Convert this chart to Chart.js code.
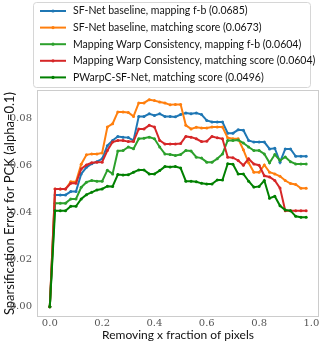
<!DOCTYPE html>
<html>
<head>
<meta charset="utf-8">
<script src="https://cdn.jsdelivr.net/npm/chart.js@4"></script>
<style>
    body { margin: 0; background: #fff; }
    #wrap { width: 322px; height: 344px; }
</style>
</head>
<body>
<div id="wrap"><canvas id="sparseChart" width="322" height="344"></canvas></div>
<script>
// Fraction of pixels removed (x axis)
const fractions = [0, 0.02, 0.04, 0.06, 0.08, 0.1, 0.12, 0.14, 0.16, 0.18,
    0.2, 0.22, 0.24, 0.26, 0.28, 0.3, 0.32, 0.34, 0.36, 0.38,
    0.4, 0.42, 0.44, 0.46, 0.48, 0.5, 0.52, 0.54, 0.56, 0.58,
    0.6, 0.62, 0.64, 0.66, 0.68, 0.7, 0.72, 0.74, 0.76, 0.78,
    0.8, 0.82, 0.84, 0.86, 0.88, 0.9, 0.92, 0.94, 0.96, 0.98];

const sfnetMapping = [0, 0.0474, 0.0474, 0.0474, 0.0488, 0.0488, 0.0563, 0.0591, 0.0606, 0.0615, 0.0627,
    0.0683, 0.0705, 0.0722, 0.0719, 0.0717, 0.0705, 0.0807, 0.0807, 0.0818, 0.0811,
    0.0818, 0.0807, 0.0807, 0.0805, 0.0815, 0.0821, 0.0818, 0.0821, 0.0815, 0.0790,
    0.0783, 0.0783, 0.0783, 0.0736, 0.0736, 0.0750, 0.0748, 0.0705, 0.0698, 0.0698,
    0.0698, 0.0669, 0.0672, 0.0613, 0.0669, 0.0669, 0.0638, 0.0638, 0.0638];

const sfnetMatching = [0, 0.0499, 0.0499, 0.0499, 0.0530, 0.0530, 0.0604, 0.0644, 0.0648, 0.0648, 0.0652,
    0.0762, 0.0776, 0.0826, 0.0826, 0.0824, 0.0807, 0.0864, 0.0864, 0.0878, 0.0874,
    0.0868, 0.0864, 0.0856, 0.0858, 0.0858, 0.0769, 0.0754, 0.0761, 0.0758, 0.0758,
    0.0762, 0.0762, 0.0762, 0.0716, 0.0712, 0.0712, 0.0665, 0.0610, 0.0570, 0.0570,
    0.0601, 0.0570, 0.0563, 0.0553, 0.0535, 0.0522, 0.0518, 0.0502, 0.0502];

const warpMapping = [0, 0.0439, 0.0439, 0.0439, 0.0457, 0.0457, 0.0506, 0.0528, 0.0535, 0.0532, 0.0532,
    0.0579, 0.0563, 0.0660, 0.0662, 0.0677, 0.0670, 0.0712, 0.0714, 0.0719, 0.0712,
    0.0677, 0.0648, 0.0645, 0.0641, 0.0645, 0.0662, 0.0660, 0.0634, 0.0630, 0.0613,
    0.0613, 0.0627, 0.0648, 0.0705, 0.0705, 0.0707, 0.0694, 0.0677, 0.0662, 0.0662,
    0.0648, 0.0610, 0.0645, 0.0620, 0.0635, 0.0615, 0.0605, 0.0605, 0.0605];

const warpMatching = [0, 0.0499, 0.0499, 0.0499, 0.0523, 0.0523, 0.0584, 0.0601, 0.0610, 0.0612, 0.0613,
    0.0662, 0.0698, 0.0705, 0.0705, 0.0700, 0.0700, 0.0754, 0.0754, 0.0769, 0.0762,
    0.0705, 0.0690, 0.0690, 0.0690, 0.0692, 0.0722, 0.0719, 0.0712, 0.0700, 0.0702,
    0.0722, 0.0716, 0.0712, 0.0634, 0.0632, 0.0620, 0.0600, 0.0627, 0.0605, 0.0600,
    0.0555, 0.0550, 0.0535, 0.0503, 0.0407, 0.0407, 0.0407, 0.0407, 0.0407];

const pwarpcMatching = [0, 0.0407, 0.0407, 0.0407, 0.0426, 0.0426, 0.0457, 0.0475, 0.0485, 0.0495, 0.0499,
    0.0511, 0.0510, 0.0560, 0.0558, 0.0559, 0.0570, 0.0580, 0.0580, 0.0563, 0.0563,
    0.0577, 0.0594, 0.0592, 0.0594, 0.0588, 0.0532, 0.0532, 0.0530, 0.0523, 0.0520,
    0.0520, 0.0537, 0.0537, 0.0606, 0.0604, 0.0563, 0.0563, 0.0532, 0.0507, 0.0510,
    0.0535, 0.0460, 0.0468, 0.0428, 0.0410, 0.0407, 0.0383, 0.0379, 0.0379];

const seriesLabels = [
    'SF-Net baseline, mapping f-b (0.0685)',
    'SF-Net baseline, matching score (0.0673)',
    'Mapping Warp Consistency, mapping f-b (0.0604)',
    'Mapping Warp Consistency, matching score (0.0604)',
    'PWarpC-SF-Net, matching score (0.0496)'
];
const seriesColors = ['#1f77b4', '#ff7f0e', '#2ca02c', '#d62728', '#008000'];
const seriesValues = [sfnetMapping, sfnetMatching, warpMapping, warpMatching, pwarpcMatching];

const xTicks = [0, 0.2, 0.4, 0.6, 0.8, 1.0];
const yTicks = [0, 0.02, 0.04, 0.06, 0.08];

// matplotlib-like legend box sitting above the axes
const legendBox = {
    id: 'legendBox',
    afterDraw(chart) {
        const ctx = chart.ctx;
        ctx.save();
        ctx.beginPath();
        ctx.roundRect(33.5, 2.5, 277, 85, 3);
        ctx.fillStyle = 'rgba(255,255,255,0.8)';
        ctx.fill();
        ctx.strokeStyle = '#d6d6d6';
        ctx.lineWidth = 1;
        ctx.stroke();

        ctx.font = '10.5px Lato';
        ctx.textBaseline = 'middle';
        chart.data.datasets.forEach((ds, i) => {
            const y = 11 + i * 16.6;
            ctx.strokeStyle = ds.borderColor;
            ctx.lineWidth = 2;
            ctx.beginPath();
            ctx.moveTo(40, y);
            ctx.lineTo(66, y);
            ctx.stroke();
            ctx.fillStyle = ds.borderColor;
            ctx.beginPath();
            ctx.arc(53, y, 1.6, 0, Math.PI * 2);
            ctx.fill();
            ctx.fillStyle = '#111';
            ctx.fillText(ds.label, 73, y);
        });
        ctx.restore();
    }
};

// light grey frame around the plot area
const axesFrame = {
    id: 'axesFrame',
    afterDraw(chart) {
        const { left, top, width, height } = chart.chartArea;
        const ctx = chart.ctx;
        ctx.save();
        ctx.strokeStyle = '#cccccc';
        ctx.lineWidth = 1;
        ctx.strokeRect(left + 0.5, top + 0.5, width - 1, height - 1);
        ctx.restore();
    }
};

const datasets = seriesValues.map((vals, i) => ({
    label: seriesLabels[i],
    data: vals.map((v, j) => ({ x: fractions[j], y: v })),
    borderColor: seriesColors[i],
    backgroundColor: seriesColors[i],
    borderWidth: 2,
    pointRadius: 1.5,
    pointHoverRadius: 1.5,
    pointBorderWidth: 0,
    tension: 0,
    order: seriesValues.length - i
}));

new Chart(document.getElementById('sparseChart'), {
    type: 'line',
    data: { datasets },
    options: {
        responsive: false,
        animation: false,
        layout: { padding: { top: 90, right: 3, left: 0, bottom: 0 } },
        plugins: {
            legend: { display: false },
            tooltip: { enabled: false }
        },
        scales: {
            x: {
                type: 'linear',
                min: -0.049,
                max: 1.029,
                grid: { display: false, drawTicks: false },
                border: { display: false },
                afterBuildTicks: s => { s.ticks = xTicks.map(v => ({ value: v })); },
                afterFit: s => { s.height = 27; },
                ticks: {
                    padding: 0,
                    color: '#555',
                    font: { family: '"DejaVu Serif"', size: 10 },
                    callback: v => v.toFixed(1)
                },
                title: {
                    display: true,
                    text: 'Removing x fraction of pixels',
                    color: '#111',
                    font: { family: 'Lato', size: 12 },
                    padding: { top: 0, bottom: 2 }
                }
            },
            y: {
                min: -0.0044,
                max: 0.0919,
                grid: { display: false, drawTicks: false },
                border: { display: false },
                afterBuildTicks: s => { s.ticks = yTicks.map(v => ({ value: v })); },
                afterFit: s => { s.width = 37; },
                ticks: {
                    padding: 5,
                    color: '#555',
                    font: { family: '"DejaVu Serif"', size: 10 },
                    callback: v => v.toFixed(2)
                },
                title: {
                    display: true,
                    text: 'Sparsification Error for PCK (alpha=0.1)',
                    color: '#111',
                    font: { family: 'Lato', size: 13 },
                    padding: { top: 2, bottom: 0 }
                }
            }
        }
    },
    plugins: [legendBox, axesFrame]
});
</script>
</body>
</html>
